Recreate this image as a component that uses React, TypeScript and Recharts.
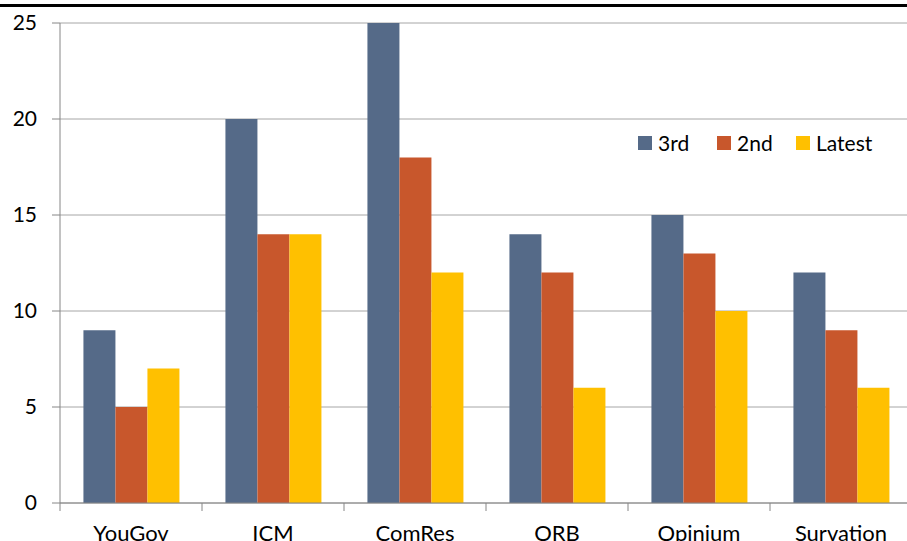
import React from "react";
import { Bar, BarChart, CartesianGrid, XAxis, YAxis } from "recharts";

const categories = ["YouGov", "ICM", "ComRes", "ORB", "Opinium", "Survation"];
const third = [9, 20, 25, 14, 15, 12];
const second = [5, 14, 18, 12, 13, 9];
const latest = [7, 14, 12, 6, 10, 6];
const yTicks = [0, 5, 10, 15, 20, 25];

const seriesNames = ["3rd", "2nd", "Latest"];
const colors = ["#556A88", "#C8572C", "#FFC000"];

const data = categories.map((name, i) => ({
  name,
  third: third[i],
  second: second[i],
  latest: latest[i],
}));

const FONT = "Lato, 'Open Sans', sans-serif";
const AXIS = "#868686";
const BAND = 142;

function CategoryTick(props: any) {
  const { x, y, payload, index } = props;
  return (
    <g>
      <line x1={x - BAND / 2} x2={x - BAND / 2} y1={y} y2={y + 8} stroke={AXIS} />
      {index === categories.length - 1 && (
        <line x1={x + BAND / 2} x2={x + BAND / 2} y1={y} y2={y + 8} stroke={AXIS} />
      )}
      <text x={x} y={y + 38} textAnchor="middle" fontSize={22} fill="#000" fontFamily={FONT}>
        {payload.value}
      </text>
    </g>
  );
}

export default function App() {
  return (
    <div
      style={{
        position: "fixed",
        top: 0,
        left: 0,
        width: 907,
        height: 541,
        overflow: "hidden",
        background: "#fff",
      }}
    >
      <BarChart
        width={920}
        height={560}
        data={data}
        margin={{ top: 23, right: 8, bottom: 0, left: 0 }}
        barCategoryGap="16.5%"
        barGap={0}
      >
        <CartesianGrid vertical={false} stroke="#A6A6A6" />
        <XAxis
          dataKey="name"
          height={57}
          axisLine={{ stroke: AXIS }}
          tickLine={false}
          tickSize={0}
          tickMargin={0}
          tick={<CategoryTick />}
          interval={0}
        />
        <YAxis
          width={60}
          domain={[0, 25]}
          ticks={yTicks}
          axisLine={{ stroke: AXIS }}
          tickLine={{ stroke: AXIS }}
          tickSize={8}
          tickMargin={15}
          tick={{ fill: "#000", fontSize: 21, fontFamily: FONT }}
        />
        <Bar dataKey="third" name={seriesNames[0]} fill={colors[0]} isAnimationActive={false} />
        <Bar dataKey="second" name={seriesNames[1]} fill={colors[1]} isAnimationActive={false} />
        <Bar dataKey="latest" name={seriesNames[2]} fill={colors[2]} isAnimationActive={false} />
      </BarChart>
      <div
        style={{
          position: "absolute",
          top: 4,
          left: 0,
          width: 907,
          height: 3,
          background: "#000",
          zIndex: 3,
        }}
      />
      <div
        style={{
          position: "absolute",
          top: 130,
          left: 638,
          display: "flex",
          alignItems: "center",
          fontFamily: FONT,
          fontSize: 21,
          zIndex: 2,
        }}
      >
        {seriesNames.map((s, i) => (
          <div key={s} style={{ display: "flex", alignItems: "center", width: 79 }}>
            <span
              style={{ width: 14, height: 14, background: colors[i], marginRight: 6, display: "inline-block" }}
            />
            <span style={{ color: "#000" }}>{s}</span>
          </div>
        ))}
      </div>
    </div>
  );
}
